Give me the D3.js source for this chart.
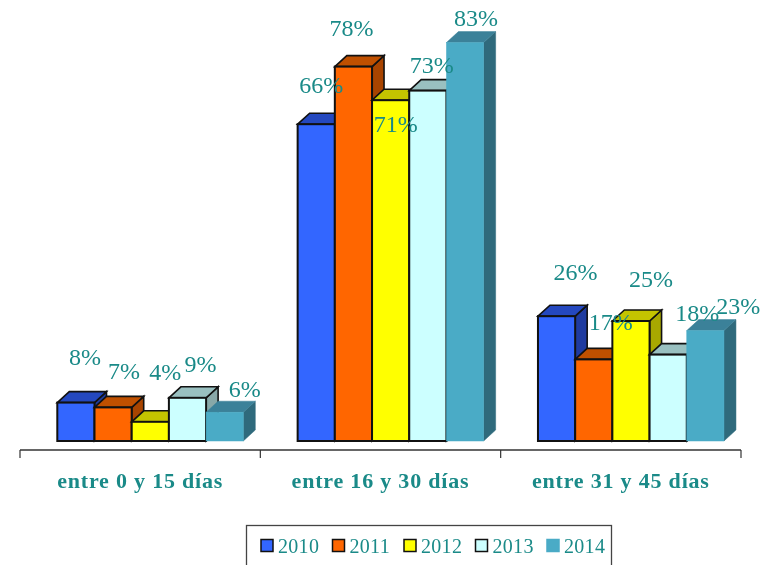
<!DOCTYPE html>
<html><head><meta charset="utf-8">
<style>html,body{margin:0;padding:0;background:#fff;overflow:hidden}svg{display:block}text{font-family:"Liberation Serif",serif;fill:#1a8a88}</style>
<script src="https://cdnjs.cloudflare.com/ajax/libs/d3/7.8.5/d3.min.js"></script>
</head><body><svg id="c" width="771" height="565"></svg>
<script>
const categories = ["entre 0 y 15 días","entre 16 y 30 días","entre 31 y 45 días"];
const years = ["2010","2011","2012","2013","2014"];
const v2010 = [8,66,26];
const v2011 = [7,78,17];
const v2012 = [4,71,25];
const v2013 = [9,73,18];
const v2014 = [6,83,23];
const seriesValues = [v2010,v2011,v2012,v2013,v2014];
const frontColors = ["#3366ff","#ff6600","#ffff00","#ccffff","#4aabc6"];
const topColors = ["#2448bf","#c05000","#c4c400","#99c0c0","#3b8199"];
const sideColors = ["#1f3ba0","#a84400","#a8a800","#88a8a8","#2f6a7c"];
const strokeColors = ["#111","#111","#111","#111","none"];
// hand-placed label nudges (px) from each bar's top centre, [series][category]
const labelDx = [[9,5,19],[11,-2,17],[15,5,20],[13,4,29],[20,11,33]];
const labelDy = [[-38,-31,-36],[-28,-31,-29],[-42,32,-34],[-26,-18,-34],[-15,-17,-17]];

const svg = d3.select("#c");
const W0 = 20, W1 = 741, axisY = 450, baseY = 441;
const dx = 12, dy = 11;
const x0 = d3.scaleBand().domain(categories).range([W0,W1]).paddingInner(0).paddingOuter(0);
const x1 = d3.scaleBand().domain(years).range([0,186]);
const groupLeft = c => x0(c) + 37.3;
const y = d3.scaleLinear().domain([0,100]).range([baseY,baseY-480]);

const chart = svg.append("g").style("filter","blur(0.5px)");
years.forEach((yr,s)=>{
  const g = chart.append("g");
  const bars = g.selectAll("g").data(categories.map((c,i)=>({c,v:seriesValues[s][i]}))).join("g");
  const L = d=>groupLeft(d.c)+x1(yr), R = d=>L(d)+x1.bandwidth(), T = d=>y(d.v);
  const stroke = strokeColors[s]==="none" ? null : strokeColors[s];
  bars.append("path").attr("d",d=>`M${R(d)},${baseY}L${R(d)+dx},${baseY-dy}L${R(d)+dx},${T(d)-dy}L${R(d)},${T(d)}Z`)
    .attr("fill",sideColors[s]).attr("stroke",stroke||sideColors[s]).attr("stroke-width",stroke?1.6:0.5);
  bars.append("path").attr("d",d=>`M${L(d)},${T(d)}L${L(d)+dx},${T(d)-dy}L${R(d)+dx},${T(d)-dy}L${R(d)},${T(d)}Z`)
    .attr("fill",topColors[s]).attr("stroke",stroke||topColors[s]).attr("stroke-width",stroke?1.6:0.5);
  bars.append("rect").attr("x",L).attr("y",T).attr("width",x1.bandwidth()).attr("height",d=>baseY-T(d))
    .attr("fill",frontColors[s]).attr("stroke",stroke||frontColors[s]).attr("stroke-width",stroke?2:0.5);
});

const axis = d3.axisBottom(x0).tickSize(0).tickPadding(22);
const ag = chart.append("g").attr("transform",`translate(0,${axisY})`).call(axis);
ag.select(".domain").remove();
ag.append("line").attr("x1",W0).attr("x2",W1).attr("stroke","#333").attr("stroke-width",1.6);
ag.selectAll(".bound").data(d3.range(categories.length+1)).join("line").attr("class","bound")
  .attr("x1",i=>W0+i*x0.bandwidth()).attr("x2",i=>W0+i*x0.bandwidth()).attr("y1",0).attr("y2",8)
  .attr("stroke","#333").attr("stroke-width",1.2);
ag.selectAll(".tick text").style("font-family",'"Liberation Serif",serif').style("font-size","22px").style("font-weight","bold")
  .style("letter-spacing","0.8px").attr("fill","#1a8a88").attr("dy","0.71em");

years.forEach((yr,s)=>{
  chart.append("g").selectAll("text").data(categories).join("text")
    .attr("x",(c,i)=>groupLeft(c)+x1(yr)+x1.bandwidth()/2+labelDx[s][i])
    .attr("y",(c,i)=>y(seriesValues[s][i])+labelDy[s][i])
    .attr("text-anchor","middle").style("font-size","24px")
    .text((c,i)=>seriesValues[s][i]+"%");
});

const leg = chart.append("g");
leg.append("rect").attr("x",246.5).attr("y",525.5).attr("width",365).attr("height",60)
  .attr("fill","#fff").attr("stroke","#444").attr("stroke-width",1.3);
const legX = d3.scalePoint().domain(years).range([261,547]);
const item = leg.selectAll("g").data(years).join("g").attr("transform",d=>`translate(${legX(d)},0)`);
item.append("rect").attr("x",0).attr("y",539.5).attr("width",12).attr("height",12)
  .attr("fill",(d,i)=>frontColors[i]).attr("stroke",(d,i)=>strokeColors[i]==="none"?frontColors[i]:"#111").attr("stroke-width",1.5);
item.append("text").attr("x",17).attr("y",553).style("font-size","20px").style("letter-spacing","0.3px").text(d=>d);
</script></body></html>
